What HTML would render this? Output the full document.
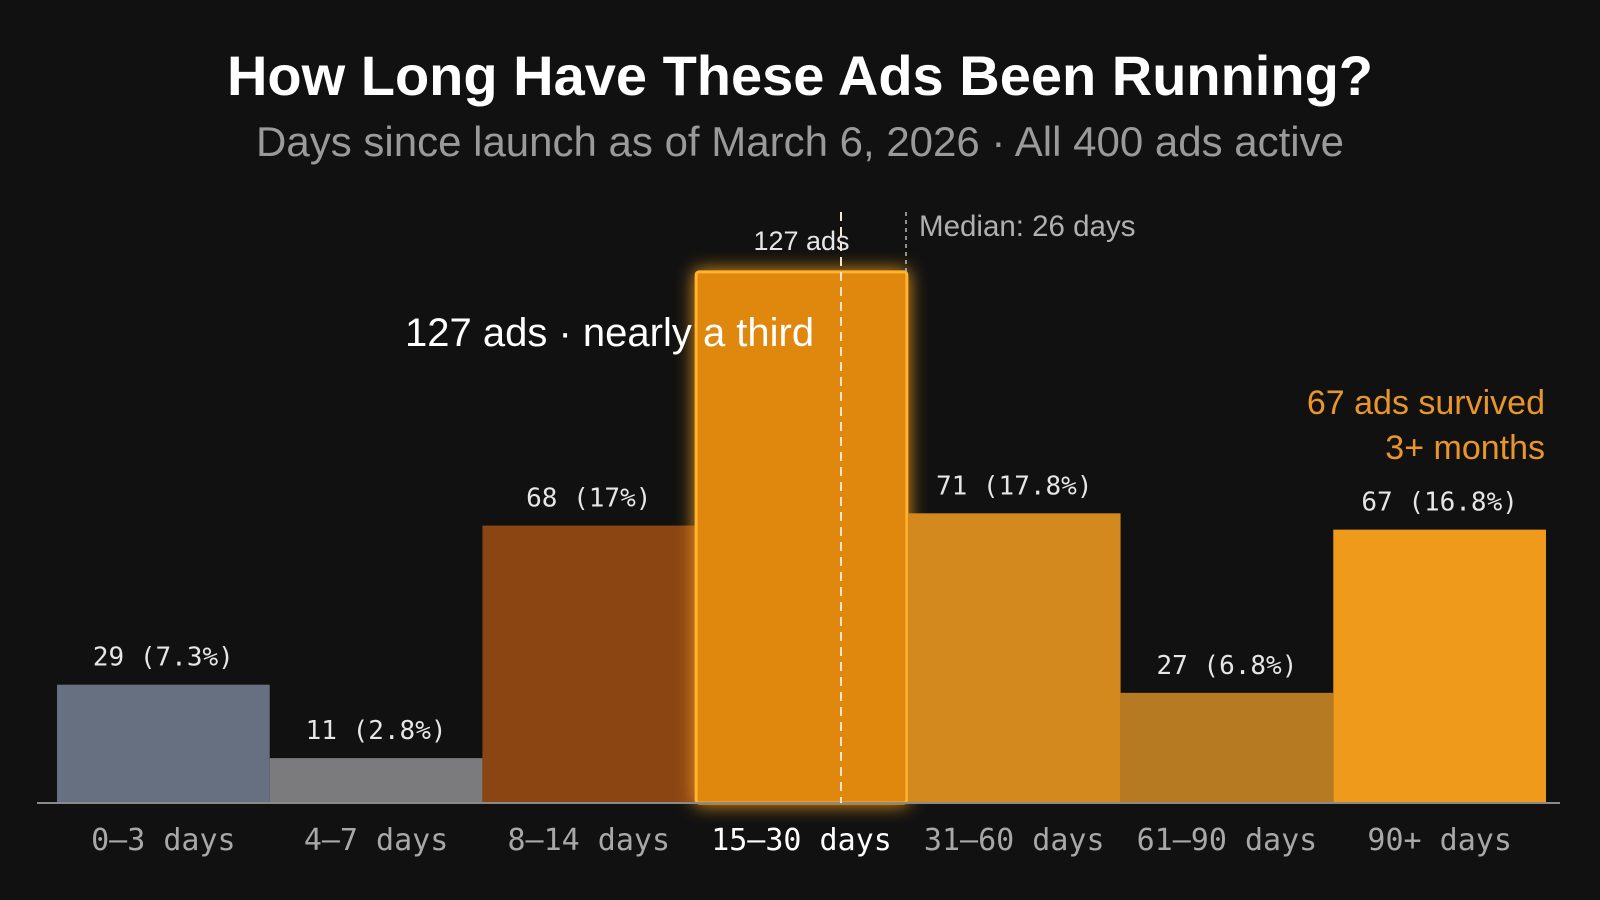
<!DOCTYPE html>
<html><head><meta charset="utf-8">
<style>
html,body{margin:0;padding:0;background:#111111;width:1600px;height:900px;overflow:hidden}
svg{display:block}
.sans{font-family:"Liberation Sans","DejaVu Sans",sans-serif}
.mono{font-family:"DejaVu Sans Mono","Liberation Mono",monospace}
</style></head>
<body>
<svg id="chart" width="1600" height="900" viewBox="0 0 1600 900">
<defs>
<filter id="glow" x="-30%" y="-20%" width="160%" height="140%">
<feGaussianBlur stdDeviation="9" result="b"/>
<feMerge><feMergeNode in="b"/><feMergeNode in="SourceGraphic"/></feMerge>
</filter>
</defs>
<rect width="1600" height="900" fill="#111111"/>
<text class="sans" x="800" y="95" text-anchor="middle" font-size="56" font-weight="bold" fill="#ffffff">How Long Have These Ads Been Running?</text>
<text class="sans" x="800" y="156" text-anchor="middle" font-size="42" fill="#9a9a9a">Days since launch as of March 6, 2026 · All 400 ads active</text>
<g id="bars"></g>
<line x1="37" y1="803" x2="1560" y2="803" stroke="#8a8a8a" stroke-width="2"/>
<g id="labels"></g>
<line x1="906" y1="212" x2="906" y2="272" stroke="#bbbbbb" stroke-width="1.5" stroke-dasharray="4,4"/>
<text class="sans" x="919" y="236" font-size="29.5" fill="#b0b0b0">Median: 26 days</text>
<text class="sans" x="405" y="346" font-size="40" fill="#ffffff">127 ads · nearly a third</text>
<text class="sans" x="1545" y="414" text-anchor="end" font-size="34" fill="#e8962a">67 ads survived</text>
<text class="sans" x="1545" y="459" text-anchor="end" font-size="34" fill="#e8962a">3+ months</text>
</svg>
<script>
const categories = ["0–3 days","4–7 days","8–14 days","15–30 days","31–60 days","61–90 days","90+ days"];
const counts = [29, 11, 68, 127, 71, 27, 67];
const percents = ["7.3%","2.8%","17%","","17.8%","6.8%","16.8%"];
const colors = ["#667080","#7b7b7d","#8a4513","#e0870f","#d4891f","#b67a22","#ef9a1a"];
const highlightIndex = 3;

const NS = "http://www.w3.org/2000/svg";
const x0 = 57, x1 = 1546, baseY = 803, pxPerAd = 4.08;
const bw = (x1 - x0) / categories.length;
const xScale = i => x0 + i * bw;
const yScale = v => baseY - v * pxPerAd;
const barsG = document.getElementById("bars");
const labelsG = document.getElementById("labels");

categories.forEach((c, i) => {
  const hi = i === highlightIndex;
  const x = xScale(i);
  const top = yScale(counts[i]) - (hi ? 13 : 0);
  const r = document.createElementNS(NS, "rect");
  
  
  r.setAttribute("x", hi ? x + 1 : x);
  r.setAttribute("y", top);
  r.setAttribute("width", hi ? bw - 2 : bw);
  r.setAttribute("height", baseY - top);
  r.setAttribute("fill", colors[i]);
  if (hi) {
    r.setAttribute("stroke", "#ffb32e");
    r.setAttribute("stroke-width", "3");
    r.setAttribute("rx", "3");
    r.setAttribute("filter", "url(#glow)");
  }
  barsG.appendChild(r);

  const t = document.createElementNS(NS, "text");
  
  
  t.setAttribute("class", hi ? "sans" : "mono");
  t.setAttribute("x", x + bw / 2);
  t.setAttribute("y", top - (hi ? 22 : 19));
  t.setAttribute("text-anchor", "middle");
  t.setAttribute("font-size", hi ? "27" : "26");
  t.setAttribute("fill", "#e6e6e6");
  t.textContent = hi ? counts[i] + "  ads" : counts[i] + " (" + percents[i] + ")";
  labelsG.appendChild(t);

  const xl = document.createElementNS(NS, "text");
  
  
  xl.setAttribute("class", "mono");
  xl.setAttribute("x", x + bw / 2);
  xl.setAttribute("y", 850);
  xl.setAttribute("text-anchor", "middle");
  xl.setAttribute("font-size", "30");
  xl.setAttribute("fill", hi ? "#ffffff" : "#a8a8a8");
  xl.textContent = c;
  labelsG.appendChild(xl);
});

const ml = document.createElementNS(NS, "line");


ml.setAttribute("x1", 841); ml.setAttribute("x2", 841);
ml.setAttribute("y1", 212); ml.setAttribute("y2", baseY);
ml.setAttribute("stroke", "#f5e6cc");
ml.setAttribute("stroke-width", "2");
ml.setAttribute("stroke-dasharray", "9,6");
labelsG.insertBefore(ml, labelsG.firstChild);
</script>
</body></html>
